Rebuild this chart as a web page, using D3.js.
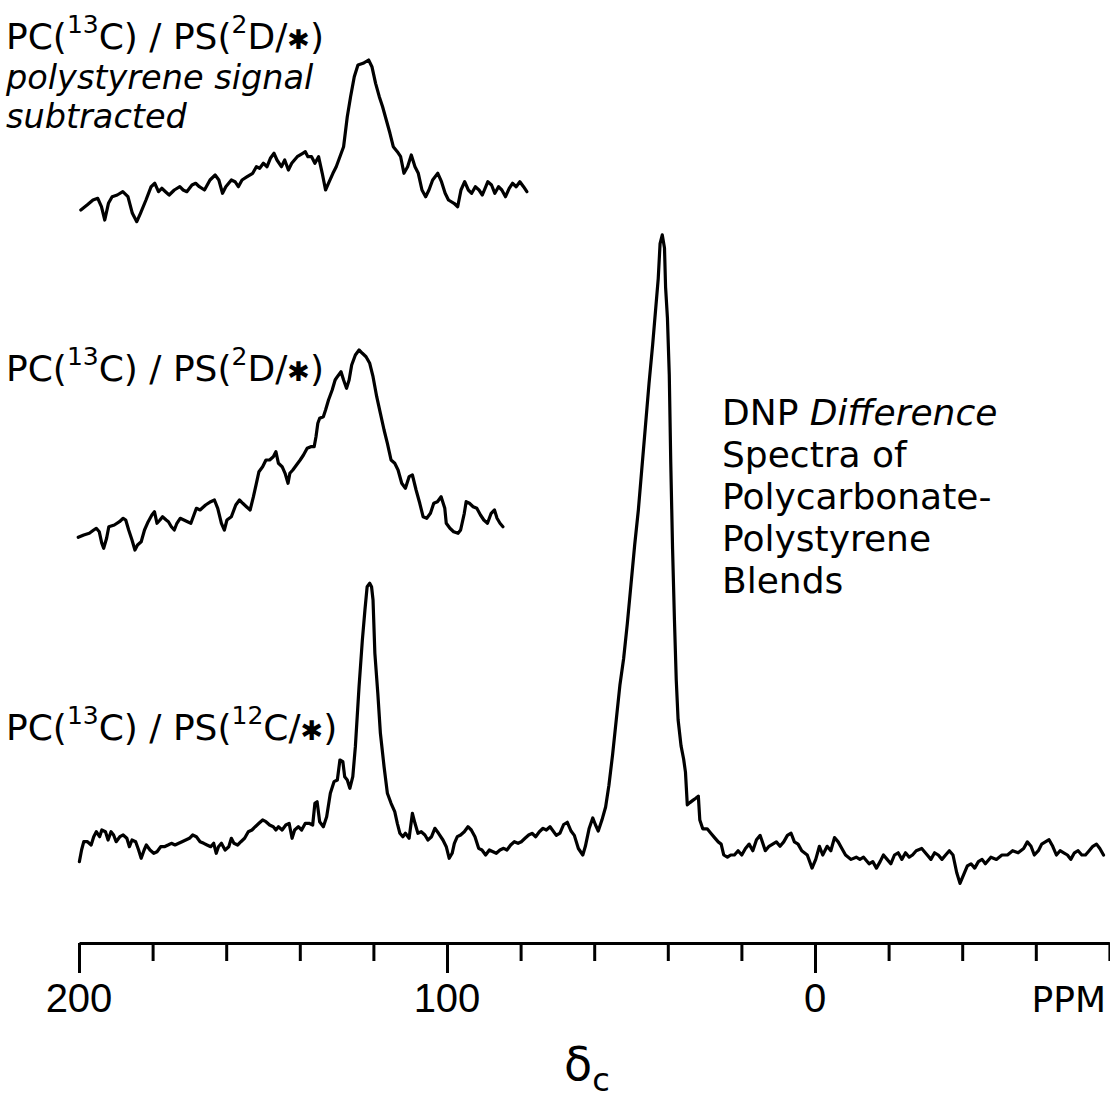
<!DOCTYPE html>
<html>
<head>
<meta charset="utf-8">
<script src="https://cdn.jsdelivr.net/npm/d3@7"></script>
<style>
  html, body { margin: 0; padding: 0; background: #fff; }
  svg { display: block; }
  text { font-family: "DejaVu Sans", "Liberation Sans", Arial, sans-serif; fill: #000; }
  text.num { font-family: "Liberation Sans", Arial, sans-serif; }
</style>
</head>
<body>
<script>
// ---------------- DATA ----------------
// x-axis ticks (ppm)
const ppmTicks = [200, 180, 160, 140, 120, 100, 80, 60, 40, 20, 0, -20, -40, -60, -80];
const majorTicks = [200, 100, 0];
const tickLabelValues = [200, 100, 0];
const tickLabelTexts = ["200", "100", "0"];
const unitLabel = "PPM";

// Spectrum A: PC(13C)/PS(2D/*) polystyrene signal subtracted (arbitrary intensity)
const specA_ppm = [199.5,197.8,196.2,194.9,193.9,193.0,192.0,191.0,189.6,188.1,186.7,185.5,184.3,183.3,181.8,180.4,179.4,178.4,177.5,176.5,175.5,174.1,172.6,171.7,170.7,169.3,168.3,167.3,165.9,164.4,163.0,162.0,161.0,160.1,158.6,157.6,156.7,155.7,154.3,152.8,151.8,150.9,149.9,148.9,148.0,147.0,146.2,145.0,144.1,143.1,142.2,140.7,139.2,138.5,137.8,136.8,135.9,134.9,133.9,133.0,132.0,131.0,130.1,129.1,128.1,127.1,126.2,125.2,124.2,122.8,121.3,120.4,119.4,118.4,117.5,116.5,115.5,114.6,113.5,112.6,111.7,110.7,109.7,108.7,107.8,106.8,105.8,104.9,103.9,102.5,101.5,100.5,99.6,98.1,97.1,96.2,95.2,94.2,93.3,92.3,91.3,90.4,88.9,87.9,87.0,86.0,85.1,84.1,83.1,82.2,81.2,80.2,79.2,78.3];
const specA_int = [5,10,15,16.7,8.3,-5,11.7,18.3,20,23.3,18.3,1.7,-6.7,1.7,15,28.3,31.7,23.3,26.7,23.3,20,25,28.3,25,23.3,30,31.7,28.3,25,35,40,35,21.7,28.3,35,33.3,28.3,35,38.3,41.7,48.3,46.7,51.7,48.3,56.7,61.7,55,48.3,55,45,51.7,58.3,61.7,63.3,58.3,58.3,51.7,58.3,41.7,25,33.3,41.7,48.3,58.3,68.3,98.3,118.3,138.3,150,151.7,155,148.3,131.7,118.3,108.3,95,81.7,68.3,63.3,58.3,41.7,48.3,60,48.3,41.7,25,18.3,25,35,41.7,33.3,21.7,15,11.7,8.3,25,33.3,25,21.7,28.3,25,20,33.3,30,21.7,28.3,25,18.3,26.7,31.7,28.3,33.3,28.3,23.3];

// Spectrum B: PC(13C)/PS(2D/*)
const specB_ppm = [200.2,198.7,197.2,196.0,195.3,194.5,193.8,193.3,192.5,191.9,190.4,189.0,188.0,187.3,186.5,185.6,184.8,184.1,183.1,182.2,181.2,180.2,179.5,178.8,178.0,177.3,176.3,175.7,174.9,174.1,173.4,172.5,171.5,170.5,169.6,168.6,168.1,167.1,165.6,164.2,163.2,162.3,161.3,160.5,159.8,158.6,157.4,156.4,155.5,154.5,153.5,152.6,151.8,151.1,150.1,149.2,148.2,147.2,146.5,145.8,144.8,144.0,143.2,142.7,141.9,140.9,139.9,139.0,138.0,137.0,136.1,135.6,135.1,134.6,133.6,133.0,132.2,131.2,130.4,129.8,128.8,128.1,127.3,126.6,125.9,124.9,123.9,123.0,122.0,121.0,120.1,119.1,118.1,117.1,116.2,115.2,114.2,113.3,112.3,111.3,110.3,109.4,108.4,107.4,106.5,105.5,104.5,103.6,102.6,101.6,100.6,100.2,99.2,98.2,97.0,96.3,95.3,94.8,93.9,92.9,91.9,90.9,90.0,89.0,88.0,87.1,86.4,85.6,84.8];
const specB_int = [2.7,5,6.7,10,11.7,8.3,-3.3,-8.3,1.7,13.3,15,18.3,21.7,20,10,0,-10,-5,-1.7,10,18.3,25,28.3,16.7,20,23.3,20,18.3,13.3,10,16.7,21.7,20,18.3,16.7,26.7,31.7,30,35,38.3,40,31.7,16.7,10,20,23.3,35,40,36.7,33.3,30,43.3,56.7,68.3,73.3,80,80,83.3,88.3,76.7,73.3,66.7,56.7,66.7,70,75,80,85,91.7,93.3,93.3,103.3,116.7,121.7,123.3,130,140,150,160,163.3,168.3,160,151.7,160,175,185,190,186.7,183.3,176.7,163.3,143.3,126.7,110,96.7,80,76.7,70,56.7,51.7,63.3,65,50,36.7,23.3,21.7,26.7,36.7,38.3,43.3,31.7,16.7,11.7,8.3,6.7,10,26.7,38.3,36.7,33.3,31.7,25,20,16.7,26.7,30,21.7,16.7,13.3];

// Spectrum C: PC(13C)/PS(12C/*) full range
const specC_ppm = [199.9,199.3,198.7,197.7,196.7,196.0,195.3,194.4,193.8,192.8,192.1,191.3,190.6,189.9,188.9,188.0,187.0,186.3,185.6,184.6,183.8,183.1,182.3,181.7,180.7,179.7,178.8,177.8,176.8,175.8,174.9,173.9,172.9,172.0,171.0,170.0,169.1,168.1,167.1,166.1,165.2,164.2,163.4,162.7,162.1,161.3,160.3,159.3,158.6,157.9,156.9,156.0,155.0,154.0,153.0,152.1,151.1,150.1,149.2,148.2,147.2,146.5,145.8,144.8,143.8,142.9,142.1,141.4,140.4,139.5,138.5,137.5,136.5,135.9,135.3,134.6,133.6,132.7,131.7,130.7,129.8,129.1,128.3,127.8,127.1,126.4,125.6,124.9,123.9,123.0,122.3,121.7,121.0,120.5,120.1,119.6,118.8,118.1,117.1,116.2,115.2,114.2,113.5,112.8,112.0,111.3,110.3,109.4,108.7,107.9,107.0,106.0,105.2,104.2,103.3,102.3,101.1,100.2,99.4,98.6,98.0,97.2,96.3,95.3,94.3,93.4,92.4,91.4,90.5,89.5,88.5,87.5,86.6,85.6,84.6,83.7,82.7,81.7,80.7,79.8,78.8,77.8,76.9,75.9,74.9,73.9,73.0,72.0,70.3,69.3,68.3,67.3,66.3,65.4,64.3,63.1,62.4,61.4,60.4,59.7,58.9,57.9,56.9,56.0,55.0,54.0,53.0,52.0,51.0,50.0,49.0,48.0,47.1,46.1,45.1,44.1,43.3,42.6,42.1,41.5,40.9,40.6,40.1,39.6,39.2,38.7,38.2,37.7,37.2,36.4,35.7,35.2,34.7,34.0,33.2,32.4,31.7,31.3,30.5,29.3,28.3,27.3,26.3,25.5,24.8,23.8,22.9,21.9,20.9,19.9,18.9,17.9,16.9,15.9,14.9,14.3,13.5,12.5,11.5,10.5,9.5,8.5,7.5,6.5,5.6,4.6,3.6,2.1,0.8,-0.2,-1.2,-2.1,-3.3,-4.3,-5.3,-6.3,-7.3,-8.3,-9.8,-11.2,-12.2,-13.2,-14.7,-15.7,-16.7,-17.7,-18.6,-19.6,-20.6,-21.6,-22.6,-23.6,-24.6,-25.6,-26.5,-27.5,-29.0,-30.5,-31.5,-32.5,-33.5,-34.5,-35.5,-36.5,-37.5,-38.5,-39.4,-40.4,-41.4,-42.4,-43.4,-44.4,-45.4,-46.3,-47.8,-49.3,-50.8,-52.3,-53.7,-55.2,-56.7,-57.7,-58.7,-59.6,-60.7,-61.6,-62.6,-63.6,-64.6,-65.6,-66.6,-67.6,-68.6,-69.5,-70.5,-71.5,-72.5,-73.5,-74.5,-75.5,-76.5,-77.4,-78.4];
const specC_int = [-1.7,10,18.3,18.3,15,23.3,28.3,23.3,30,28.3,20,28.3,25,18.3,23.3,25,21.7,13.3,20,18.3,10,1.7,10,15,10,6.7,8.3,13.3,13.3,15,16.7,15,16.7,18.3,20,21.7,25,23.3,18.3,16.7,15,13.3,16.7,6.7,13.3,16.7,10,13.3,21.7,16.7,15,18.3,21.7,28.3,30,33.3,36.7,40,38.3,35,33.3,30,33.3,30,35,36.7,21.7,30,33.3,30,36.7,36.7,35,56.7,58.3,38.3,33.3,43.3,66.7,78.3,80,100,98.3,83.3,80,71.7,83.3,113.3,173.3,220,250,273.3,276.7,273.3,260,206.7,166.7,126.7,93.3,66.7,56.7,48.3,36.7,26.7,23.3,26.7,21.7,46.7,36.7,26.7,28.3,25,20,23.3,31.7,26.7,20,13.3,1.7,6.7,16.7,23.3,25,28.3,33.3,30,23.3,11.7,10,5,10,8.3,6.7,10,11.7,10,15,18.3,16.7,18.3,21.7,25,26.7,23.3,28.3,31.7,30,33.3,24.6,26.8,35.5,37.7,29,24.6,11.5,5,13.7,31.2,42.1,35.5,29,39.9,53,74.8,105.4,140.3,175.3,201.5,236.4,275.7,315,350,389.3,432.9,476.6,515.9,550.8,581.4,616.3,625.1,612,572.7,542.1,485.3,398,310.7,240.8,179.7,140.3,114.1,101,87.9,55.2,57.4,59.6,61.7,63.9,39.9,31.2,31.2,26.8,22.4,18.1,15.9,5,2.8,5,5,9.3,5,11.5,15.9,9.3,20.3,24.6,18.1,9.3,13.7,15.9,18.1,13.7,18.1,24.6,26.8,18.1,15.9,9.3,5,-8.1,0.6,13.7,5,13.7,9.3,22.4,18.1,11.5,5,0.6,2.8,0.6,2.8,-3.8,-1.6,-8.1,-1.6,5,0.6,-3.8,5,7.2,0.6,7.2,2.8,5,9.3,11.5,5,0.6,7.2,5,0.6,5,9.3,5,-12.5,-23.4,-14.7,-5.9,-3.8,-8.1,-1.6,0.6,-3.8,2.8,0.6,5,5,9.3,7.2,11.5,18.1,13.7,5,9.3,15.9,18.1,20.3,13.7,5,9.3,7.2,5,0.6,7.2,9.3,5,5,9.3,13.7,15.9,11.5,5];

// ---------------- DRAWING ----------------
const W = 1110, H = 1105;
const svg = d3.select("body").append("svg").attr("width", W).attr("height", H);

const x = d3.scaleLinear().domain([200, -80]).range([79, 1109.4]);

function drawSpectrum(ppm, inten, base) {
  const y = d3.scaleLinear().domain([0, 100]).range([base, base - 100]);
  const data = ppm.map((p, i) => [p, inten[i]]);
  svg.append("path")
    .datum(data)
    .attr("d", d3.line().x(d => x(d[0])).y(d => y(d[1])))
    .attr("fill", "none")
    .attr("stroke", "#000")
    .attr("stroke-width", 3.2)
    .attr("stroke-linejoin", "round")
    .attr("stroke-linecap", "round");
}
drawSpectrum(specA_ppm, specA_int, 215);
drawSpectrum(specB_ppm, specB_int, 540);
drawSpectrum(specC_ppm, specC_int, 860);

// axis
const axisY = 943;
const axisG = svg.append("g")
  .attr("transform", `translate(0,${axisY})`)
  .call(d3.axisBottom(x).tickValues(ppmTicks).tickSize(18).tickSizeOuter(0).tickFormat(""));
axisG.select(".domain").attr("stroke", "#000").attr("stroke-width", 3);
axisG.selectAll(".tick line")
  .attr("stroke", "#000")
  .attr("stroke-width", 3)
  .attr("y2", d => majorTicks.includes(d) ? 30 : 18);

svg.append("g").selectAll("text")
  .data(tickLabelValues)
  .join("text")
  .attr("class", "num")
  .attr("x", d => x(d))
  .attr("y", 1012)
  .attr("text-anchor", "middle")
  .attr("font-size", 40)
  .text((d, i) => tickLabelTexts[i]);
svg.append("text")
  .attr("x", 1106)
  .attr("y", 1012)
  .attr("text-anchor", "end")
  .attr("font-size", 36)
  .text(unitLabel);

// axis title delta_c
const ax = svg.append("text").attr("x", 564).attr("y", 1080).attr("font-size", 46);
ax.append("tspan").text("δ");
ax.append("tspan").attr("dy", 11).attr("font-size", 32).text("c");

// sample labels
function sampleLabel(yBase, parts) {
  const t = svg.append("text").attr("x", 6).attr("y", yBase).attr("font-size", 36);
  parts.forEach(p => {
    const s = t.append("tspan").text(p.t);
    if (p.sup) s.attr("font-size", 25).attr("baseline-shift", "65%");
    if (p.star) s.attr("font-size", 27);
  });
  return t;
}
const labelA = [
  {t: "PC("}, {t: "13", sup: true}, {t: "C) / PS("}, {t: "2", sup: true}, {t: "D/"}, {t: "✱", star: true}, {t: ")"}
];
const labelC = [
  {t: "PC("}, {t: "13", sup: true}, {t: "C) / PS("}, {t: "12", sup: true}, {t: "C/"}, {t: "✱", star: true}, {t: ")"}
];
sampleLabel(49, labelA);
svg.append("text").attr("x", 6).attr("y", 88.5).attr("font-size", 33.5).attr("font-style", "italic").text("polystyrene signal");
svg.append("text").attr("x", 6).attr("y", 127.5).attr("font-size", 33.5).attr("font-style", "italic").text("subtracted");
sampleLabel(381, labelA);
sampleLabel(740, labelC);

// right-hand title
const titleLines = ["Spectra of", "Polycarbonate-", "Polystyrene", "Blends"];
const t1 = svg.append("text").attr("x", 722).attr("y", 425).attr("font-size", 36);
t1.append("tspan").text("DNP ");
t1.append("tspan").attr("font-style", "italic").text("Difference");
svg.append("g").selectAll("text")
  .data(titleLines)
  .join("text")
  .attr("x", 722)
  .attr("y", (d, i) => 467 + i * 42)
  .attr("font-size", 36)
  .text(d => d);
</script>
</body>
</html>
